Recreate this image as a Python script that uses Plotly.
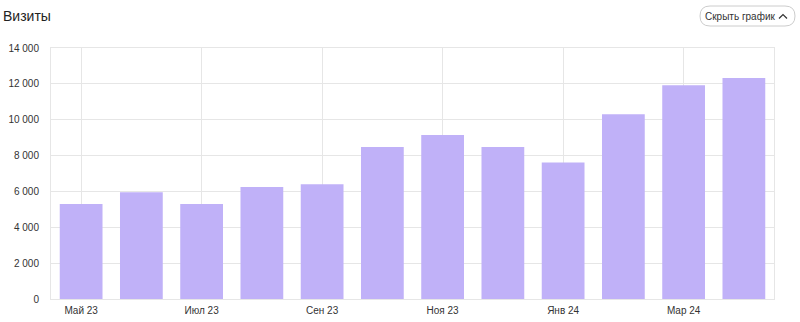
import plotly.graph_objects as go

months = ["Май 23", "Июн 23", "Июл 23", "Авг 23", "Сен 23", "Окт 23",
          "Ноя 23", "Дек 23", "Янв 24", "Фев 24", "Мар 24", "Апр 24"]
visits = [5300, 5950, 5300, 6250, 6400, 8480, 9150, 8480, 7620, 10300, 11920, 12330]
x_ticks = ["Май 23", "Июл 23", "Сен 23", "Ноя 23", "Янв 24", "Мар 24"]
y_ticks = [0, 2000, 4000, 6000, 8000, 10000, 12000, 14000]

W, H = 800, 322
L, R, T, B = 51, 26, 48, 23
pw, ph = W - L - R, H - T - B

def px(x):
    return (x - L) / pw

def py(y):
    return (H - B - y) / ph

fig = go.Figure(go.Bar(
    x=months, y=visits,
    marker=dict(color="#c0b1f8", line=dict(width=0)),
    hoverinfo="x+y",
))

# rounded button outline
x0, x1, y0, y1, r = 700, 795, 6, 26, 10
path = (f"M {px(x0 + r)},{py(y0)} L {px(x1 - r)},{py(y0)} "
        f"Q {px(x1)},{py(y0)} {px(x1)},{py(y0 + r)} "
        f"Q {px(x1)},{py(y1)} {px(x1 - r)},{py(y1)} "
        f"L {px(x0 + r)},{py(y1)} "
        f"Q {px(x0)},{py(y1)} {px(x0)},{py(y0 + r)} "
        f"Q {px(x0)},{py(y0)} {px(x0 + r)},{py(y0)} Z")
chev = f"M {px(779)},{py(18.5)} L {px(783)},{py(14.5)} L {px(787)},{py(18.5)}"

fig.update_layout(
    width=W, height=H,
    margin=dict(l=L, r=R, t=T, b=B, autoexpand=False),
    paper_bgcolor="white", plot_bgcolor="white",
    separators=". ",
    bargap=0.29,
    showlegend=False,
    font=dict(family="Liberation Sans, Arial, sans-serif", size=10, color="#333"),
    xaxis=dict(
        type="category", automargin=False,
        tickvals=x_ticks, ticktext=x_ticks,
        showgrid=True, gridcolor="#e6e6e6", gridwidth=1,
        showline=True, linecolor="#e6e6e6", linewidth=1, mirror=True,
        ticks="", tickfont=dict(size=10, color="#333"),
        ticklabelstandoff=2,
        fixedrange=True,
    ),
    yaxis=dict(
        range=[0, 14000], automargin=False,
        tickvals=y_ticks, tickformat=",d",
        showgrid=True, gridcolor="#e6e6e6", gridwidth=1,
        showline=True, linecolor="#e6e6e6", linewidth=1, mirror=True,
        zeroline=False,
        ticks="", tickfont=dict(size=10, color="#333"),
        ticklabelstandoff=9,
        fixedrange=True,
    ),
    shapes=[
        dict(type="path", path=path, xref="paper", yref="paper",
             line=dict(color="#cccccc", width=1), fillcolor="white", layer="above"),
        dict(type="path", path=chev, xref="paper", yref="paper",
             line=dict(color="#333", width=1.2), layer="above"),
    ],
    annotations=[
        dict(text="Визиты", x=px(1), y=py(16), xref="paper", yref="paper",
             xanchor="left", yanchor="middle", showarrow=False,
             font=dict(size=14, color="#222")),
        dict(text="Скрыть график", x=px(777), y=py(16.5), xref="paper", yref="paper",
             xanchor="right", yanchor="middle", showarrow=False,
             font=dict(size=10, color="#333")),
    ],
)

fig.write_html("out.html", config={"displayModeBar": False})
